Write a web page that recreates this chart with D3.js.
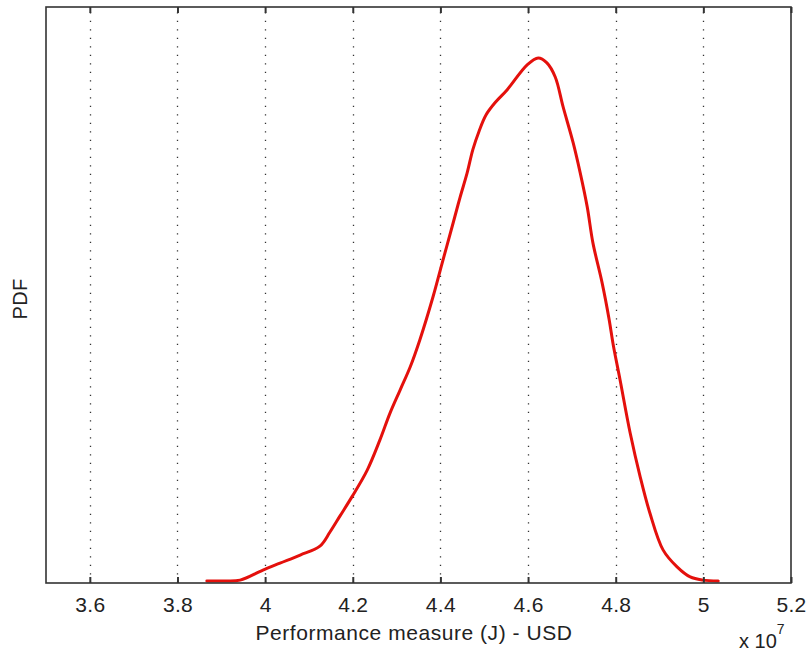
<!DOCTYPE html>
<html>
<head>
<meta charset="utf-8">
<script src="https://cdn.jsdelivr.net/npm/d3@7"></script>
<style>
  html, body { margin: 0; padding: 0; background: #fff; }
  svg { display: block; }
  text { font-family: "Liberation Sans", Arial, Helvetica, sans-serif; fill: #222; }
</style>
</head>
<body>
<svg id="chart" width="807" height="657"></svg>
<script>
// Estimated density of the performance measure J (USD, in units of 1e7)
const jValues = [3.867, 3.908, 3.943, 3.995, 4.034, 4.080, 4.125, 4.148, 4.171,
  4.198, 4.233, 4.262, 4.285, 4.308, 4.331, 4.353, 4.383, 4.404, 4.429, 4.445,
  4.461, 4.474, 4.488, 4.504, 4.526, 4.552, 4.598, 4.623, 4.643, 4.662, 4.680,
  4.703, 4.719, 4.735, 4.748, 4.769, 4.785, 4.794, 4.810, 4.833, 4.856, 4.878,
  4.908, 4.940, 4.970, 4.999, 5.034];
const pdfValues = [0.007, 0.007, 0.010, 0.045, 0.069, 0.097, 0.128, 0.177, 0.233,
  0.299, 0.392, 0.497, 0.590, 0.670, 0.750, 0.844, 0.993, 1.111, 1.250, 1.340,
  1.424, 1.505, 1.568, 1.625, 1.670, 1.712, 1.799, 1.823, 1.806, 1.757, 1.653,
  1.528, 1.424, 1.306, 1.181, 1.042, 0.915, 0.830, 0.705, 0.521, 0.368, 0.243,
  0.115, 0.056, 0.021, 0.010, 0.007];
const xTicks = [3.6, 3.8, 4.0, 4.2, 4.4, 4.6, 4.8, 5.0, 5.2];
const xDomain = [3.5, 5.2];
const yDomain = [0, 2];

const svg = d3.select("#chart");
const plotLeft = 46, plotRight = 791, plotTop = 7, plotBottom = 583;

const x = d3.scaleLinear().domain(xDomain).range([plotLeft, plotRight]);
const y = d3.scaleLinear().domain(yDomain).range([plotBottom, plotTop]);

// dotted vertical grid
svg.append("g")
  .selectAll("line")
  .data(xTicks.filter(t => t < xDomain[1]))
  .join("line")
  .attr("x1", d => Math.round(x(d)) + 0.5)
  .attr("x2", d => Math.round(x(d)) + 0.5)
  .attr("y1", plotBottom)
  .attr("y2", plotTop)
  .attr("stroke", "#333")
  .attr("stroke-width", 1.3)
  .attr("stroke-dasharray", "1.3,7.2");

// density curve
const pts = jValues.map((v, i) => [v, pdfValues[i]]);
svg.append("path")
  .datum(pts)
  .attr("fill", "none")
  .attr("stroke", "#e4100c")
  .attr("stroke-width", 3)
  .attr("stroke-linejoin", "round")
  .attr("stroke-linecap", "round")
  .attr("d", d3.line().x(d => x(d[0])).y(d => y(d[1])).curve(d3.curveCatmullRom.alpha(0.5)));

// bottom axis with inward ticks
const xAxis = d3.axisBottom(x)
  .tickValues(xTicks)
  .tickSizeInner(-6)
  .tickSizeOuter(0)
  .tickPadding(14)
  .tickFormat(d3.format("~g"));
const gx = svg.append("g").attr("transform", `translate(0,${plotBottom})`).call(xAxis);
gx.select(".domain").remove();
gx.selectAll(".tick line").attr("stroke", "#333").attr("stroke-width", 2);
gx.selectAll(".tick text")
  .attr("font-size", 21)
  .attr("fill", "#222")
  .style("letter-spacing", "0.3px")
  .style("font-family", "'Liberation Sans', Arial, sans-serif");

// top ticks
const xTop = d3.axisTop(x).tickValues(xTicks).tickSizeInner(-6).tickSizeOuter(0).tickFormat("");
const gt = svg.append("g").attr("transform", `translate(0,${plotTop})`).call(xTop);
gt.select(".domain").remove();
gt.selectAll(".tick line").attr("stroke", "#333").attr("stroke-width", 2);

// axes box
svg.append("rect")
  .attr("x", plotLeft).attr("y", plotTop)
  .attr("width", plotRight - plotLeft).attr("height", plotBottom - plotTop)
  .attr("fill", "none")
  .attr("stroke", "#333")
  .attr("stroke-width", 1.6);

// axis labels
svg.append("text")
  .attr("x", 414)
  .attr("y", 640)
  .attr("text-anchor", "middle")
  .attr("font-size", 21)
  .style("letter-spacing", "0.55px")
  .text("Performance measure (J) - USD");

svg.append("text")
  .attr("transform", "translate(27,299) rotate(-90)")
  .attr("text-anchor", "middle")
  .attr("font-size", 20)
  .style("letter-spacing", "0.4px")
  .text("PDF");

// exponent marker
const ex = svg.append("text").attr("x", 739).attr("y", 648).attr("font-size", 20);
ex.append("tspan").text("x 10");
ex.append("tspan").attr("font-size", 14).attr("dy", -14).text("7");
</script>
</body>
</html>
